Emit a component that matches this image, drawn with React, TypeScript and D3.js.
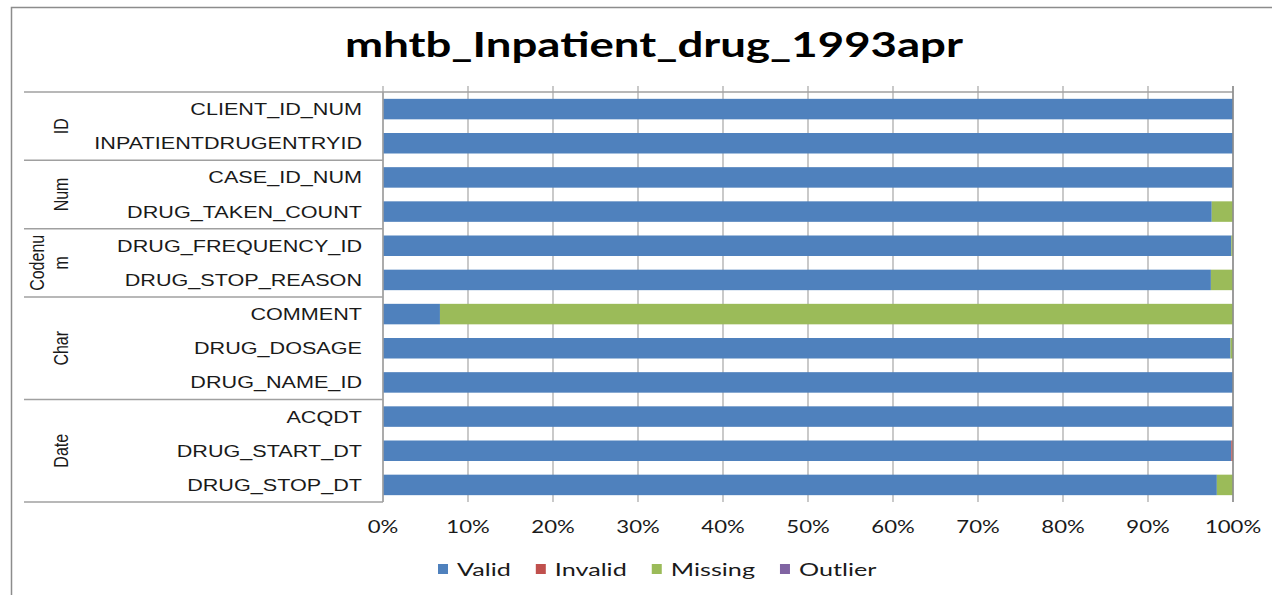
import React, { useEffect, useRef } from "react";
import * as d3 from "d3";

const title = "mhtb_Inpatient_drug_1993apr";
const fields = [
  "CLIENT_ID_NUM", "INPATIENTDRUGENTRYID", "CASE_ID_NUM", "DRUG_TAKEN_COUNT",
  "DRUG_FREQUENCY_ID", "DRUG_STOP_REASON", "COMMENT", "DRUG_DOSAGE",
  "DRUG_NAME_ID", "ACQDT", "DRUG_START_DT", "DRUG_STOP_DT",
];
const groups = [
  { name: ["ID"], count: 2 },
  { name: ["Num"], count: 2 },
  { name: ["Codenu", "m"], count: 2 },
  { name: ["Char"], count: 3 },
  { name: ["Date"], count: 3 },
];
const seriesNames = ["Valid", "Invalid", "Missing", "Outlier"];
const seriesColors = ["#4F81BD", "#C0504D", "#9BBB59", "#8064A2"];
const validPct = [100, 100, 100, 97.5, 99.8, 97.4, 6.7, 99.7, 100, 100, 99.8, 98.1];
const invalidPct = [0, 0, 0, 0, 0, 0, 0, 0, 0, 0, 0.2, 0];
const missingPct = [0, 0, 0, 2.5, 0.2, 2.6, 93.3, 0.3, 0, 0, 0, 1.9];
const outlierPct = [0, 0, 0, 0, 0, 0, 0, 0, 0, 0, 0, 0];
const xTicks = [0, 10, 20, 30, 40, 50, 60, 70, 80, 90, 100];

const W = 1272, H = 595;
const SX = 1.31;
const LSX = 1.4;

export default function App() {
  const ref = useRef<SVGSVGElement>(null);
  useEffect(() => {
    const svg = d3.select(ref.current);
    svg.selectAll("*").remove();

    const left = 383, right = 1233, top = 92, bottom = 502, axisLeft = 24;
    const x = d3.scaleLinear().domain([0, 100]).range([left, right]);
    const y = d3.scaleBand<string>().domain(fields).range([top, bottom]).paddingInner(0.4).paddingOuter(0.2);

    // outer border
    svg.append("rect").attr("x", 11.5).attr("y", 7.5).attr("width", W + 20).attr("height", H + 20)
      .attr("fill", "white").attr("stroke", "#8c8c8c").attr("stroke-width", 1.5);

    // title
    svg.append("text").attr("x", 345).attr("y", 57).attr("textLength", 618).attr("lengthAdjust", "spacingAndGlyphs")
      .attr("font-family", "Lato, 'Open Sans', sans-serif").attr("font-weight", "bold").attr("font-size", 34)
      .attr("fill", "#000").text(title);

    // gridlines
    svg.append("g").selectAll("line").data(xTicks).join("line")
      .attr("x1", d => x(d)).attr("x2", d => x(d)).attr("y1", 86).attr("y2", bottom)
      .attr("stroke", "#a6a6a6").attr("stroke-width", 1.2);

    // stacked bars
    const rows = fields.map((f, i) => ({ field: f, Valid: validPct[i], Invalid: invalidPct[i], Missing: missingPct[i], Outlier: outlierPct[i] }));
    const stack = d3.stack<any>().keys(seriesNames)(rows);
    stack.forEach((layer, si) => {
      svg.append("g").selectAll("rect").data(layer).join("rect")
        .attr("x", d => x(d[0])).attr("width", d => Math.max(0, x(d[1]) - x(d[0])))
        .attr("y", d => y(d.data.field)!).attr("height", y.bandwidth())
        .attr("fill", seriesColors[si]);
    });

    // axis lines
    const axisColor = "#a0a0a0";
    svg.append("line").attr("x1", axisLeft).attr("x2", right).attr("y1", top).attr("y2", top)
      .attr("stroke", axisColor).attr("stroke-width", 1.5);
    svg.append("line").attr("x1", left).attr("x2", left).attr("y1", top).attr("y2", bottom)
      .attr("stroke", axisColor).attr("stroke-width", 1.5);
    svg.append("line").attr("x1", right).attr("x2", right).attr("y1", 86).attr("y2", bottom)
      .attr("stroke", "#8c8c8c").attr("stroke-width", 1.5);

    // group separators & labels
    const step = y.step();
    let idx = 0;
    const bounds: number[] = [top];
    groups.forEach(g => {
      idx += g.count;
      const yb = idx === fields.length ? bottom : top + (y.paddingOuter() * step) + idx * step - (y.paddingInner() * step) / 2;
      bounds.push(yb);
      const y0 = bounds[bounds.length - 2];
      const cy = (y0 + yb) / 2;
      const lines = g.name;
      const lh = 24;
      lines.forEach((ln, li) => {
        const cx = 62 - (lines.length - 1 - li) * lh;
        svg.append("text")
          .attr("transform", `translate(${cx + 6},${cy}) scale(${SX},1) rotate(-90)`)
          .attr("text-anchor", "middle")
          .attr("font-family", "'Liberation Sans', Arial, sans-serif").attr("font-size", 16)
          .attr("fill", "#1a1a1a").text(ln);
      });
      svg.append("line").attr("x1", axisLeft).attr("x2", left).attr("y1", yb).attr("y2", yb)
        .attr("stroke", axisColor).attr("stroke-width", 1.5);
    });

    // category labels
    fields.forEach(f => {
      svg.append("text")
        .attr("transform", `translate(362,${y(f)! + y.bandwidth() / 2 + 6}) scale(${SX},1)`)
        .attr("text-anchor", "end")
        .attr("font-family", "'Liberation Sans', Arial, sans-serif").attr("font-size", 16.5)
        .attr("fill", "#1a1a1a").text(f);
    });

    // x tick labels
    xTicks.forEach(t => {
      svg.append("text")
        .attr("transform", `translate(${x(t)},533) scale(1.23,1)`)
        .attr("text-anchor", "middle")
        .attr("font-family", "Lato, sans-serif").attr("font-size", 18)
        .attr("fill", "#1a1a1a").text(`${t}%`);
    });

    // legend
    const lg = svg.append("g");
    let lx = 438;
    seriesNames.forEach((s, i) => {
      lg.append("rect").attr("x", lx).attr("y", 564).attr("width", 10).attr("height", 10).attr("fill", seriesColors[i]);
      const t = lg.append("text")
        .attr("transform", `translate(${lx + 19},576) scale(${LSX},1)`)
        .attr("font-family", "Lato, sans-serif").attr("font-size", 18)
        .attr("fill", "#1a1a1a").text(s);
      const w = (t.node() as SVGTextElement).getComputedTextLength() * LSX;
      lx += 19 + w + 25;
    });
  }, []);

  return (
    <svg ref={ref} width={W} height={H} style={{ position: "absolute", left: 0, top: 0, background: "white" }} />
  );
}
